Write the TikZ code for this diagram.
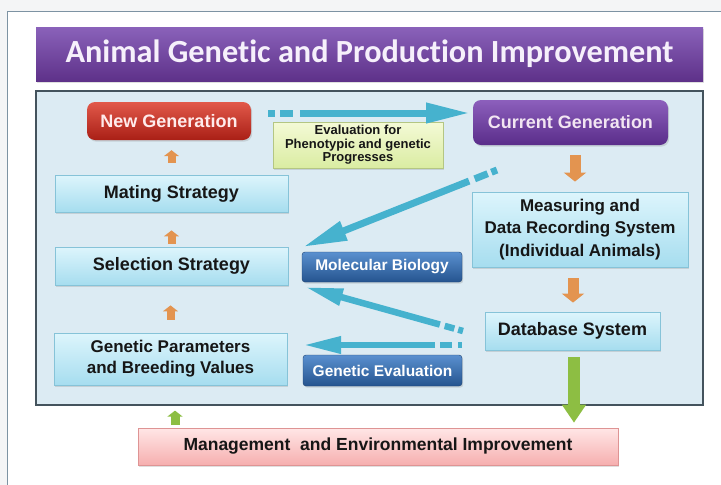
\documentclass[tikz,border=0pt]{standalone}
\usepackage{fontspec}
\setmainfont{Liberation Sans}
\newfontfamily\titlefont[Ligatures=NoCommon]{Carlito}
\usetikzlibrary{arrows.meta,shadows,calc}
\definecolor{bgGray}{HTML}{F4F5F6}
\definecolor{frameC}{HTML}{7D93A3}
\definecolor{panelFill}{HTML}{DCEBF3}
\definecolor{panelBorder}{HTML}{44535D}
\definecolor{titleTop}{HTML}{8A62BA}
\definecolor{titleBot}{HTML}{5E3189}
\definecolor{titleTxt}{HTML}{F6F0FB}
\definecolor{lbTop}{HTML}{DDF5FC}
\definecolor{lbBot}{HTML}{A6DDEF}
\definecolor{lbBorder}{HTML}{86C3D8}
\definecolor{txt}{HTML}{161616}
\definecolor{redTop}{HTML}{E2594A}
\definecolor{redBot}{HTML}{A91F16}
\definecolor{purTop}{HTML}{8C5FBC}
\definecolor{purBot}{HTML}{5A2D8A}
\definecolor{bluTop}{HTML}{5A90CF}
\definecolor{bluBot}{HTML}{25548F}
\definecolor{evTop}{HTML}{F4FAD6}
\definecolor{evBot}{HTML}{DAECA2}
\definecolor{evBorder}{HTML}{B4C683}
\definecolor{pkTop}{HTML}{FFE6E6}
\definecolor{pkBot}{HTML}{F6AFAF}
\definecolor{pkBorder}{HTML}{DE9494}
\definecolor{cyanA}{HTML}{46B2CE}
\definecolor{orangeA}{HTML}{E39450}
\definecolor{greenA}{HTML}{8DBE43}
\begin{document}
\begin{tikzpicture}[x=1pt,y=-1pt,
  shad/.style={drop shadow={opacity=0.25,shadow xshift=1.2pt,shadow yshift=-1.6pt}},
  lbox/.style={shad,draw=lbBorder,line width=0.8pt,top color=lbTop,bottom color=lbBot,
    text=txt,font=\bfseries\fontsize{18}{22}\selectfont,align=center,inner sep=0pt},
  rbox/.style={shad,rounded corners=8pt,inner sep=0pt,text=white,
    font=\bfseries\fontsize{18}{22}\selectfont,align=center},
  bbox/.style={shad,rounded corners=3pt,inner sep=0pt,top color=bluTop,bottom color=bluBot,
    draw=bluBot!80!black,line width=0.4pt,text=white,font=\bfseries\fontsize{15.5}{18}\selectfont},
  cyanarrow/.style={draw=cyanA,line width=7pt,-{Triangle[length=44pt,width=19pt]}},
  cyanarrowb/.style={draw=cyanA,line width=6.5pt,-{Triangle[length=38pt,width=16pt]}},
  orup/.style={draw=orangeA,line width=8pt,-{Triangle[length=6pt,width=15pt]}},
  ordown/.style={draw=orangeA,line width=11pt,-{Triangle[length=9pt,width=22pt]}},
  grdown/.style={draw=greenA,line width=12pt,-{Triangle[length=18pt,width=23pt]}},
  grup/.style={draw=greenA,line width=9pt,-{Triangle[length=6pt,width=15pt]}}
]
\useasboundingbox (0,0) rectangle (721,485);
\fill[bgGray] (0,0) rectangle (721,485);
\begin{scope}
\clip (0,0) rectangle (721,485);
\draw[fill=white,draw=frameC,line width=0.8pt] (7,11) rectangle (740,500);
\end{scope}

% title
\node[shad,minimum width=667pt,minimum height=54pt,inner sep=0pt,top color=titleTop,bottom color=titleBot,
  text=titleTxt,font=\titlefont\bfseries\fontsize{32.3}{36}\selectfont] (title) at (369.5,54) {Animal Genetic and Production Improvement};

% panel
\node[draw=panelBorder,fill=panelFill,line width=1.2pt,minimum width=667pt,minimum height=314pt,inner sep=0pt] (panel) at (369.5,248) {};

% nodes
\node[rbox,top color=redTop,bottom color=redBot,minimum width=164pt,minimum height=38pt,text=white!92!red] (newgen) at (169,121) {New Generation};
\node[rbox,top color=purTop,bottom color=purBot,minimum width=195pt,minimum height=45pt,text=white!90!violet] (curgen) at (570.5,122.5) {Current Generation};
\node[shad,draw=evBorder,line width=0.6pt,top color=evTop,bottom color=evBot,minimum width=170pt,minimum height=46pt,inner sep=0pt,
  align=center,text=txt,font=\bfseries\fontsize{13}{13.5}\selectfont] (evalbox) at (358,145) {Evaluation for\\Phenotypic and genetic\\Progresses};
\node[lbox,minimum width=233pt,minimum height=37pt] (mating) at (171.5,193.5) {Mating Strategy};
\node[lbox,minimum width=233pt,minimum height=38pt] (sel) at (171.5,266) {Selection Strategy};
\node[lbox,minimum width=233pt,minimum height=52pt,font=\bfseries\fontsize{17}{21}\selectfont] (gp) at (170.5,359) {Genetic Parameters\\and Breeding Values};
\node[lbox,minimum width=216pt,minimum height=75pt,font=\bfseries\fontsize{17}{22.5}\selectfont] (meas) at (580,229.5) {Measuring and\\Data Recording System\\(Individual Animals)};
\node[lbox,minimum width=175pt,minimum height=38pt] (db) at (572.5,331) {Database System};
\node[bbox,minimum width=160pt,minimum height=30pt] (molbio) at (382,267) {Molecular Biology};
\node[bbox,minimum width=159pt,minimum height=31pt] (geneval) at (382.5,370.5) {Genetic Evaluation};
\node[shad,draw=pkBorder,line width=0.6pt,top color=pkTop,bottom color=pkBot,minimum width=480pt,minimum height=37pt,inner sep=0pt,
  text=txt,font=\bfseries\fontsize{17.5}{21}\selectfont] (mgmt) at (378,446.5) {Management\ \ and Environmental Improvement};

% small orange arrows on the left
\draw[orup,shorten <=12pt,shorten >=10pt] (mating.north) -- (mating.north |- newgen.south);
\draw[orup,shorten <=3pt,shorten >=18pt] (sel.north) -- (sel.north |- mating.south);
\draw[orup,shorten <=13pt,shorten >=20pt] (gp.north) -- (gp.north |- sel.south);

% orange arrows on the right
\draw[ordown,shorten <=10pt,shorten >=10pt] ([xshift=4.5pt]curgen.south) -- ([xshift=4.5pt]curgen.south |- meas.north);
\draw[ordown,shorten <=11pt,shorten >=9pt] ([xshift=0.5pt]db.north |- meas.south) -- ([xshift=0.5pt]db.north);

% green arrows
\draw[grdown,shorten <=7pt,shorten >=5pt] ([xshift=1.5pt]db.south) -- ([xshift=1.5pt]db.south |- mgmt.north);
\draw[grup,shorten <=3pt,shorten >=5pt] (175,428) coordinate (gu) -- (gu |- panel.south);

% cyan arrows
\coordinate (c1s) at (268,113);
\coordinate (c1e) at (470,113);
\draw[cyanarrow,dash pattern=on 7pt off 5pt on 13pt off 7pt on 2000pt off 1pt] (c1s) -- (c1e);
\coordinate (c2s) at (497,170);
\coordinate (c2e) at (303,247);
\draw[cyanarrow,dash pattern=on 6pt off 4pt on 14pt off 6pt on 2000pt off 1pt] (c2s) -- (c2e);
\coordinate (c3s) at (463,331);
\coordinate (c3e) at (305,287);
\draw[cyanarrowb,dash pattern=on 5pt off 4pt on 10pt off 5pt on 2000pt off 1pt] (c3s) -- (c3e);
\coordinate (c4s) at (462,345);
\coordinate (c4e) at (303,345);
\draw[cyanarrowb,dash pattern=on 4pt off 6pt on 12pt off 5pt on 2000pt off 1pt] (c4s) -- (c4e);
\end{tikzpicture}
\end{document}
